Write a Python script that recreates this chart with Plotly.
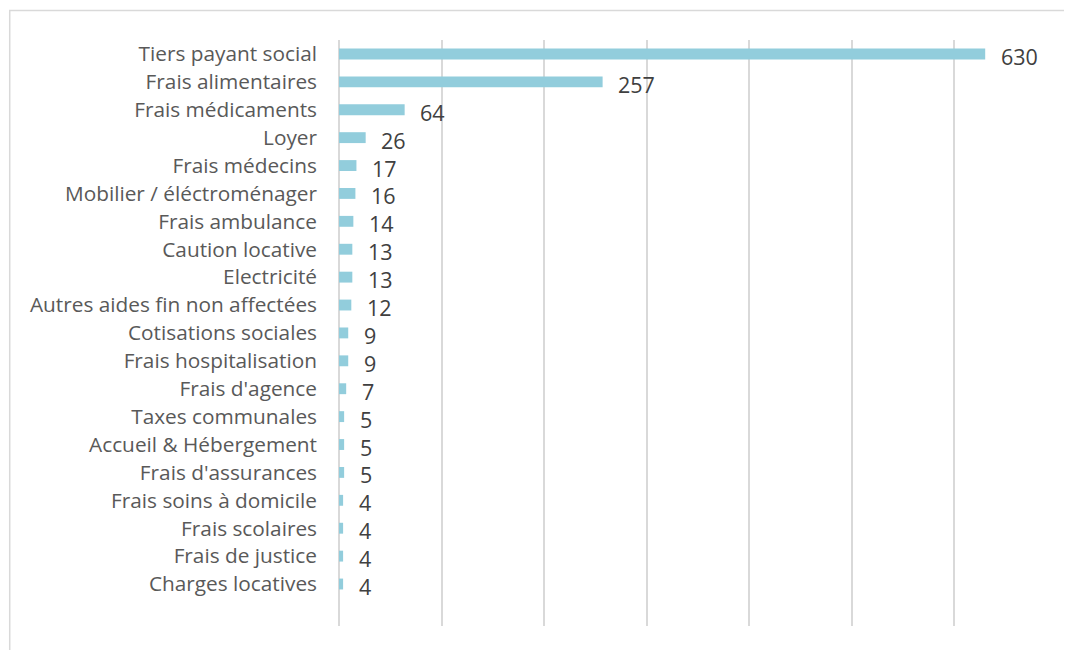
import plotly.graph_objects as go

categories = ["Tiers payant social", "Frais alimentaires", "Frais médicaments", "Loyer",
              "Frais médecins", "Mobilier / éléctroménager", "Frais ambulance", "Caution locative",
              "Electricité", "Autres aides fin non affectées", "Cotisations sociales",
              "Frais hospitalisation", "Frais d'agence", "Taxes communales", "Accueil & Hébergement",
              "Frais d'assurances", "Frais soins à domicile", "Frais scolaires", "Frais de justice",
              "Charges locatives"]
values = [630, 257, 64, 26, 17, 16, 14, 13, 13, 12, 9, 9, 7, 5, 5, 5, 4, 4, 4, 4]

FONT = "Open Sans"
OFF = 8  # page body margin
W, H = 1072 - OFF, 650 - OFF
L, T = 339 - OFF, 40 - OFF
R = W - (1057.5 - OFF)
B = H - (626 - OFF)
pw, ph = W - L - R, H - T - B

fig = go.Figure()
fig.add_trace(go.Bar(
    x=values, y=categories, orientation="h",
    marker=dict(color="#92cddc", line=dict(width=0)),
    width=0.39,
    hoverinfo="x+y",
))
for c, v in zip(categories, values):
    fig.add_annotation(x=v, y=c, text=str(v), showarrow=False, xanchor="left",
                       xshift=13.5, yshift=-2.5, font=dict(family=FONT, size=21.5, color="#404040"))

bx, by = 9.5 - OFF, 10.5 - OFF
fig.add_shape(type="rect", xref="paper", yref="paper",
              x0=(bx - L) / pw, x1=(W + 20 - L) / pw,
              y0=-(H + 20 - (H - B)) / ph, y1=(H - B - by) / ph,
              line=dict(color="#d9d9d9", width=1.5), fillcolor="rgba(0,0,0,0)", layer="below")

n = len(categories)
fig.update_layout(
    width=W, height=H,
    margin=dict(l=L, r=R, t=T, b=B, pad=0),
    paper_bgcolor="white", plot_bgcolor="white",
    showlegend=False,
    font=dict(family=FONT, size=20, color="#595959"),
    xaxis=dict(range=[0, 700], dtick=100, showgrid=True, gridcolor="#d9d9d9", gridwidth=1.5,
               showticklabels=False, zeroline=True, zerolinecolor="#d9d9d9", zerolinewidth=1.5,
               showline=False, ticks=""),
    yaxis=dict(categoryorder="array", categoryarray=categories[::-1],
               range=[-1.505, n - 0.5],
               showgrid=False, showline=False, ticks="", ticklabelstandoff=21,
               tickfont=dict(family=FONT, size=20.8, color="#595959")),
)
fig.write_html("out.html")
